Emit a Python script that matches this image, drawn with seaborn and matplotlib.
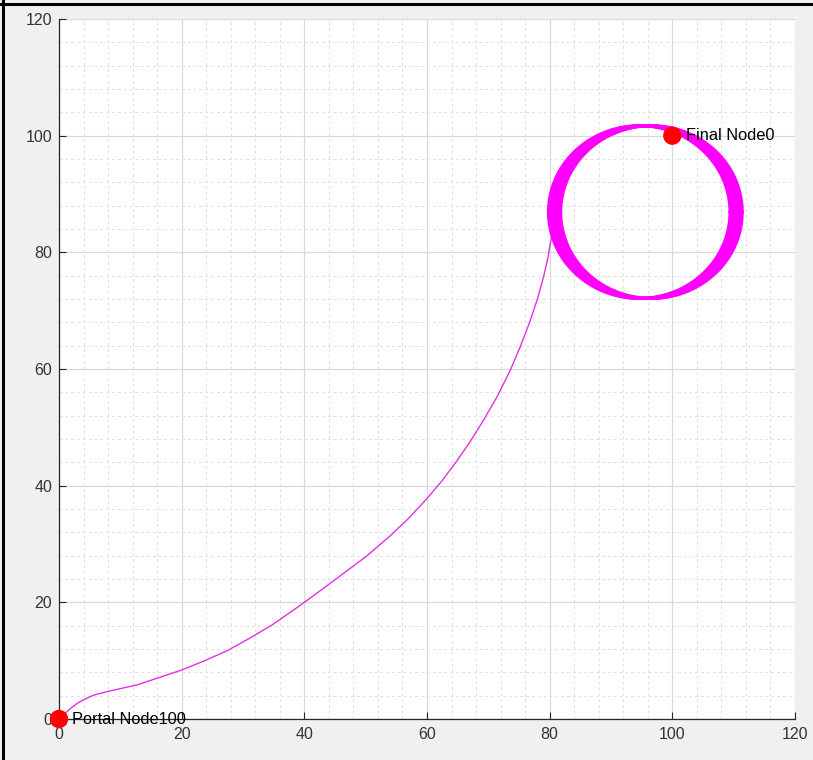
import numpy as np
import pandas as pd
import matplotlib
matplotlib.use("Agg")
import matplotlib.pyplot as plt
from matplotlib.ticker import MultipleLocator
import seaborn as sns

# ---- data ----
path_x = [0.0, 1.0, 2.0, 3.0, 4.0, 5.0, 6.0, 7.5, 10.0, 12.9, 16.0, 20.0, 24.0,
          27.6, 31.0, 34.7, 38.0, 41.7, 45.8, 50.0, 54.0, 57.0, 60.0, 62.5,
          64.9, 67.0, 69.2, 71.4, 73.5, 75.2, 76.8, 78.0, 79.0, 79.7, 80.1, 80.5]
path_y = [0.0, 1.0, 1.9, 2.7, 3.3, 3.8, 4.2, 4.6, 5.2, 5.9, 7.0, 8.4, 10.1,
          11.8, 13.8, 16.1, 18.5, 21.3, 24.5, 27.8, 31.4, 34.4, 37.8, 40.9,
          44.3, 47.5, 51.2, 55.2, 59.6, 63.8, 68.2, 72.0, 75.8, 79.0, 81.5, 83.5]

# orbit loops around the final node (centres and radii of the successive loops)
orbit_cx = [94.6, 94.9, 95.2, 95.5, 95.8, 96.1, 96.4, 96.6]
orbit_cy = [86.9, 86.9, 86.9, 86.9, 86.9, 86.9, 86.9, 86.9]
orbit_r = [14.8, 14.8, 14.8, 14.8, 14.8, 14.8, 14.8, 14.8]

node_x = [0, 100]
node_y = [0, 100]
node_labels = ["Portal Node100", "Final Node0"]

x_ticks = [0, 20, 40, 60, 80, 100, 120]
y_ticks = [0, 20, 40, 60, 80, 100, 120]

# ---- styling ----
sns.set_theme(style="white")
plt.rcParams["font.family"] = ["Liberation Sans", "DejaVu Sans"]

fig = plt.figure(figsize=(8.13, 7.6), dpi=100, facecolor="#f0f0f0")
ax = fig.add_axes([59 / 813, 1 - 719 / 760, (795 - 59) / 813, (719 - 19) / 760])
ax.set_facecolor("white")

# trajectory
path_df = pd.DataFrame({"x": path_x, "y": path_y})
sns.lineplot(data=path_df, x="x", y="y", sort=False, estimator=None,
             color="#e030e8", lw=1.0, ax=ax, zorder=3)

# loops
theta = np.linspace(0, 2 * np.pi, 361)
rows = []
for i, (cx, cy, r) in enumerate(zip(orbit_cx, orbit_cy, orbit_r)):
    for t in theta:
        rows.append((i, cx + r * np.cos(t), cy + r * np.sin(t)))
orbit_df = pd.DataFrame(rows, columns=["loop", "x", "y"])
sns.lineplot(data=orbit_df, x="x", y="y", units="loop", sort=False, estimator=None,
             color="#ff00ff", lw=2.2, ax=ax, zorder=3)

# nodes
sns.scatterplot(x=node_x, y=node_y, color="#ff0000", s=175, edgecolor="none",
                ax=ax, zorder=5, clip_on=False)
for nx, ny, lab in zip(node_x, node_y, node_labels):
    ax.text(nx + 2.2, ny, lab, va="center", ha="left", fontsize=11.8, color="black",
            zorder=6, clip_on=False)

ax.set_xlim(0, 120)
ax.set_ylim(0, 120)
ax.set_xticks(x_ticks)
ax.set_yticks(y_ticks)
ax.xaxis.set_minor_locator(MultipleLocator(4))
ax.yaxis.set_minor_locator(MultipleLocator(4))
ax.set_xlabel("")
ax.set_ylabel("")

ax.grid(True, which="major", color="#d9d9d9", lw=0.9, ls="-", zorder=0)
ax.grid(True, which="minor", color="#e0e0e0", lw=0.7, ls=(0, (3, 3)), zorder=0)
ax.set_axisbelow(True)

for s in ["top", "right"]:
    ax.spines[s].set_visible(False)
for s in ["left", "bottom"]:
    ax.spines[s].set_color("#262626")
    ax.spines[s].set_linewidth(0.9)

ax.tick_params(which="major", direction="in", length=5, width=0.8, color="#262626",
               labelsize=11.5, labelcolor="#333333", left=True, bottom=True)
ax.tick_params(axis="x", pad=6)
ax.tick_params(axis="y", pad=5)
ax.tick_params(which="minor", length=0)

# screenshot frame (top and left black edges)
fig.add_artist(plt.Line2D([0, 1], [1 - 4 / 760, 1 - 4 / 760], color="black", lw=2.2,
                          transform=fig.transFigure))
fig.add_artist(plt.Line2D([3 / 813, 3 / 813], [0, 1], color="black", lw=2.2,
                          transform=fig.transFigure))

fig.savefig("out.png", dpi=100, facecolor=fig.get_facecolor())
